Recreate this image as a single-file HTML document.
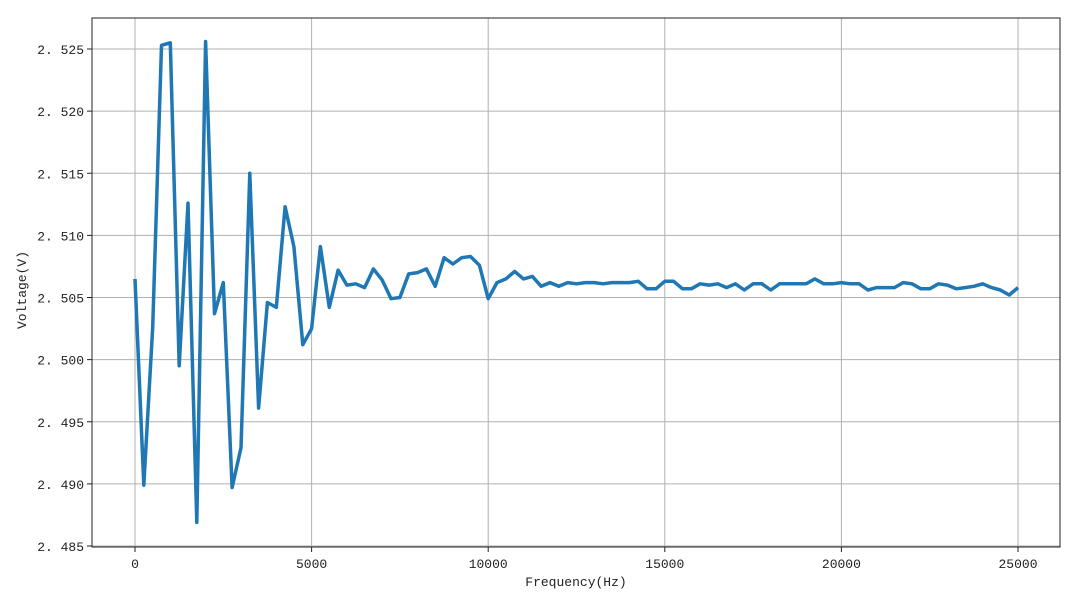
<!DOCTYPE html>
<html><head><meta charset="utf-8"><style>
html,body{margin:0;padding:0;background:#fff;width:1080px;height:608px;overflow:hidden}
svg text{font-family:"Liberation Mono","Noto Sans CJK SC",monospace;font-size:13px;fill:#222}
</style></head><body>
<svg id="chart" width="1080" height="608" xmlns="http://www.w3.org/2000/svg">
<g id="grid"></g>
<g id="axes"></g>
<polyline id="line" fill="none" stroke="#1f77b4" stroke-width="3.5" stroke-linejoin="round"/>
<rect x="92" y="18" width="968" height="529" fill="none" stroke="#222" stroke-width="1"/>
<text x="576" y="586" text-anchor="middle">Frequency(Hz)</text>
<text x="26" y="290" text-anchor="middle" transform="rotate(-90 26 290)">Voltage(V)</text>
</svg>
<script>
const xTicks=[0,5000,10000,15000,20000,25000];
const yTicks=[2.485,2.490,2.495,2.500,2.505,2.510,2.515,2.520,2.525];
const yTickLabels=["2. 485","2. 490","2. 495","2. 500","2. 505","2. 510","2. 515","2. 520","2. 525"];
const freqs=[0,250,500,750,1000,1250,1500,1750,2000,2250,2500,2750,3000,3250,3500,3750,4000,4250,4500,4750,5000,5250,5500,5750,6000,6250,6500,6750,7000,7250,7500,7750,8000,8250,8500,8750,9000,9250,9500,9750,10000,10250,10500,10750,11000,11250,11500,11750,12000,12250,12500,12750,13000,13250,13500,13750,14000,14250,14500,14750,15000,15250,15500,15750,16000,16250,16500,16750,17000,17250,17500,17750,18000,18250,18500,18750,19000,19250,19500,19750,20000,20250,20500,20750,21000,21250,21500,21750,22000,22250,22500,22750,23000,23250,23500,23750,24000,24250,24500,24750,25000];
const volts=[2.5065,2.4899,2.5026,2.5253,2.5255,2.4995,2.5126,2.4869,2.5256,2.5037,2.5062,2.4897,2.4929,2.5150,2.4961,2.5046,2.5042,2.5123,2.5091,2.5012,2.5025,2.5091,2.5042,2.5072,2.5060,2.5061,2.5058,2.5073,2.5064,2.5049,2.5050,2.5069,2.5070,2.5073,2.5059,2.5082,2.5077,2.5082,2.5083,2.5076,2.5049,2.5062,2.5065,2.5071,2.5065,2.5067,2.5059,2.5062,2.5059,2.5062,2.5061,2.5062,2.5062,2.5061,2.5062,2.5062,2.5062,2.5063,2.5057,2.5057,2.5063,2.5063,2.5057,2.5057,2.5061,2.5060,2.5061,2.5058,2.5061,2.5056,2.5061,2.5061,2.5056,2.5061,2.5061,2.5061,2.5061,2.5065,2.5061,2.5061,2.5062,2.5061,2.5061,2.5056,2.5058,2.5058,2.5058,2.5062,2.5061,2.5057,2.5057,2.5061,2.5060,2.5057,2.5058,2.5059,2.5061,2.5058,2.5056,2.5052,2.5058];
const X=f=>135+(f-0)*(1018-135)/25000;
const Y=v=>49+(2.525-v)*(546-49)/0.040;
const NS="http://www.w3.org/2000/svg";
const grid=document.getElementById('grid'),axes=document.getElementById('axes');
function mk(t,a){const e=document.createElementNS(NS,t);for(const k in a)e.setAttribute(k,a[k]);return e;}
xTicks.forEach(t=>{
  const x=X(t);
  const g=mk('line',{x1:x,x2:x,y1:18,y2:547,stroke:'#b0b0b0','stroke-width':1});
  
  
  grid.appendChild(g);
  const tk=mk('line',{x1:x,x2:x,y1:547,y2:552,stroke:'#222'});
  
  
  axes.appendChild(tk);
  const tx=mk('text',{x:x,y:568,'text-anchor':'middle'});
  
  
  tx.textContent=t;axes.appendChild(tx);
});
yTicks.forEach((t,i)=>{
  const y=Y(t);
  const g=mk('line',{x1:92,x2:1060,y1:y,y2:y,stroke:'#b0b0b0','stroke-width':1});
  
  
  grid.appendChild(g);
  const tk=mk('line',{x1:87,x2:92,y1:y,y2:y,stroke:'#222'});
  
  
  axes.appendChild(tk);
  const tx=mk('text',{x:84,y:y+5,'text-anchor':'end'});
  
  
  tx.textContent=yTickLabels[i];axes.appendChild(tx);
});
document.getElementById('line').setAttribute('points',freqs.map((f,i)=>X(f).toFixed(1)+','+Y(volts[i]).toFixed(1)).join(' '));
</script>
</body></html>
